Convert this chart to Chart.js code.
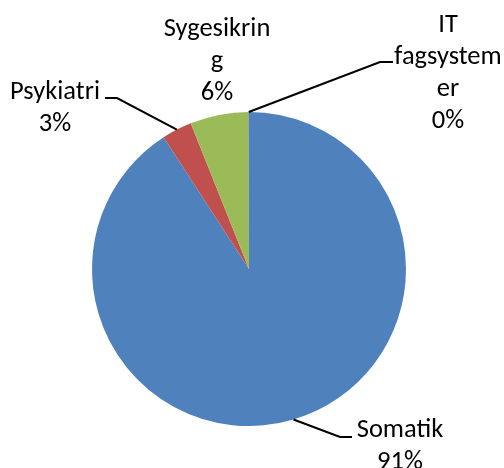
<!DOCTYPE html>
<html>
<head>
<meta charset="utf-8">
<script src="https://cdn.jsdelivr.net/npm/chart.js@4/dist/chart.umd.min.js"></script>
<style>
  html, body { margin: 0; padding: 0; background: #fff; }
  #wrap { width: 504px; height: 468px; }
</style>
</head>
<body>
<div id="wrap"><canvas id="pie" width="504" height="468"></canvas></div>
<script>
// data (share of total, in percent)
const categories = ['Somatik', 'Psykiatri', 'Sygesikring', 'IT fagsystemer'];
const values = [90.8, 3.1, 6.0, 0.05];
const sliceColors = ['#4F81BD', '#C0504D', '#9BBB59', '#8064A2'];

// how the labels wrap in the picture
const wrappedNames = [['Somatik'], ['Psykiatri'], ['Sygesikrin', 'g'], ['IT', 'fagsystem', 'er']];

// label placement (text only) and leader line bends
const labelSpots = [
  { cx: 400, base: 437, leader: [[352, 437], [340, 437]] },
  { cx: 55, base: 99, leader: [[105, 98], [117, 98]] },
  { cx: 217, base: 36, leader: null },
  { cx: 448, base: 32, leader: [[393, 62], [380, 62]] }
];

const FONT = '26.5px Carlito, Lato, sans-serif';
const LINE_H = 32;

const pieLabels = {
  id: 'pieLabels',
  afterDraw(chart) {
    const ctx = chart.ctx;
    const meta = chart.getDatasetMeta(0);
    const data = chart.data.datasets[0].data;
    const total = data.reduce((a, b) => a + b, 0);
    ctx.save();
    meta.data.forEach((arc, i) => {
      const p = arc.getProps(['x', 'y', 'startAngle', 'endAngle', 'outerRadius'], true);
      const mid = (p.startAngle + p.endAngle) / 2;
      const ax = p.x + Math.cos(mid) * p.outerRadius;
      const ay = p.y + Math.sin(mid) * p.outerRadius;
      const spot = labelSpots[i];

      if (spot.leader) {
        ctx.strokeStyle = '#000';
        ctx.lineWidth = 2;
        ctx.beginPath();
        ctx.moveTo(spot.leader[0][0], spot.leader[0][1]);
        ctx.lineTo(spot.leader[1][0], spot.leader[1][1]);
        ctx.lineTo(ax, ay);
        ctx.stroke();
      }

      const lines = wrappedNames[i].concat([Math.round(data[i] / total * 100) + '%']);
      ctx.fillStyle = '#000';
      ctx.font = FONT;
      ctx.textAlign = 'center';
      ctx.textBaseline = 'alphabetic';
      lines.forEach((t, k) => ctx.fillText(t, spot.cx, spot.base + k * LINE_H));
    });
    ctx.restore();
  }
};

new Chart(document.getElementById('pie'), {
  type: 'pie',
  data: {
    labels: categories,
    datasets: [{
      data: values,
      backgroundColor: sliceColors,
      borderWidth: 0
    }]
  },
  options: {
    responsive: false,
    animation: false,
    layout: { padding: { left: 92, right: 98, top: 112, bottom: 42 } },
    plugins: {
      legend: { display: false },
      tooltip: { enabled: false }
    }
  },
  plugins: [pieLabels]
});
</script>
</body>
</html>
